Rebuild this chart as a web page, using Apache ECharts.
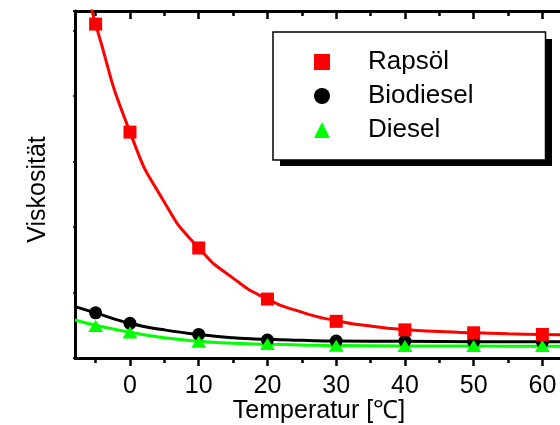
<!DOCTYPE html>
<html>
<head>
<meta charset="utf-8">
<script src="https://cdn.jsdelivr.net/npm/echarts@6.0.0/dist/echarts.min.js"></script>
<style>
html,body{margin:0;padding:0;background:#fff;}
#c{width:560px;height:425px;}
</style>
</head>
<body>
<div id="c"></div>
<script>
// measured points
var temps = [-5, 0, 10, 20, 30, 40, 50, 60];
var rapsoel = [51.0, 34.5, 16.8, 9.0, 5.6, 4.3, 3.85, 3.6];
var biodiesel = [6.9, 5.3, 3.6, 2.75, 2.6, 2.6, 2.5, 2.45];
var diesel = [4.9, 3.9, 2.5, 2.14, 1.88, 1.85, 1.85, 1.85];

// fitted curves
var rapsoelFitX = [-6, -5, 0, 5, 10, 15, 20, 25, 30, 35, 40, 45, 50, 55, 60, 63];
var rapsoelFit = [55.5, 51, 34.5, 23.8, 16.8, 12.2, 9.0, 7.0, 5.7, 4.9, 4.35, 4.05, 3.85, 3.7, 3.6, 3.55];
var biodieselFitX = [-8, -5, 0, 5, 10, 15, 20, 25, 30, 40, 50, 60, 63];
var biodieselFit = [7.85, 6.9, 5.3, 4.3, 3.6, 3.1, 2.85, 2.7, 2.6, 2.55, 2.5, 2.5, 2.5];
var dieselFitX = [-8, -5, 0, 5, 10, 15, 20, 25, 30, 40, 50, 60, 63];
var dieselFit = [5.8, 5.0, 3.95, 3.1, 2.55, 2.25, 2.1, 2.0, 1.9, 1.85, 1.82, 1.8, 1.8];

// axis ticks
var xMajorTicks = [0, 10, 20, 30, 40, 50, 60];
var xMinorTicks = [-5, 5, 15, 25, 35, 45, 55];
var seriesNames = ['Rapsöl', 'Biodiesel', 'Diesel'];

function pairs(xs, ys) { return xs.map(function (x, i) { return [x, ys[i]]; }); }

var FONT = '"Liberation Sans", Arial, sans-serif';
var X_MIN = -8, X_MAX = 63;

function xAx(pos, ticks, len, showLine, showLabel, inside, extra) {
  var a = {
    type: 'value', position: pos, min: X_MIN, max: X_MAX,
    axisLine: { show: showLine, onZero: false, lineStyle: { color: '#000', width: 3 } },
    axisTick: { show: true, inside: inside, length: len, customValues: ticks, lineStyle: { color: '#000', width: 2.5 } },
    axisLabel: { show: showLabel, customValues: ticks, fontSize: 25, color: '#000', fontFamily: FONT, margin: 16 },
    splitLine: { show: false }
  };
  if (extra) for (var k in extra) a[k] = extra[k];
  return a;
}

var chart = echarts.init(document.getElementById('c'), null, { renderer: 'canvas' });
chart.setOption({
  animation: false,
  backgroundColor: '#fff',
  grid: { left: 75, right: -3, top: 11, bottom: 67, containLabel: false, outerBoundsMode: 'none' },
  xAxis: [
    xAx('bottom', xMajorTicks, 8, true, true, false, {
      name: 'Temperatur [℃]', nameLocation: 'middle', nameGap: 41, nameMoveOverlap: false,
      nameTextStyle: { fontSize: 25, color: '#000', fontFamily: FONT }
    }),
    xAx('bottom', xMinorTicks, 5, false, false, false),
    xAx('top', xMajorTicks, 8, true, false, true),
    xAx('top', xMinorTicks, 5, false, false, true)
  ],
  yAxis: {
    type: 'value', min: 0, max: 53, interval: 10,
    axisLine: { show: true, onZero: false, lineStyle: { color: '#000', width: 3 } },
    axisTick: { show: true, inside: false, length: 2, lineStyle: { color: '#000', width: 1.5 } },
    axisLabel: { show: false },
    splitLine: { show: false },
    name: 'Viskosität', nameLocation: 'middle', nameGap: 24,
    nameTextStyle: { fontSize: 25, color: '#000', fontFamily: FONT, padding: [0, 10, 0, 0] }
  },
  legend: {
    orient: 'vertical', left: 273, top: 32,
    padding: [17, 72, 17, 41],
    itemWidth: 16, itemHeight: 16, itemGap: 8,
    backgroundColor: '#fff', borderColor: '#000', borderWidth: 1.5,
    data: [
      { name: seriesNames[0], icon: 'rect' },
      { name: seriesNames[1], icon: 'circle' },
      { name: seriesNames[2], icon: 'triangle' }
    ],
    formatter: '{t|{name}}',
    textStyle: {
      color: '#000', fontFamily: FONT, fontSize: 26, lineHeight: 24,
      rich: { t: { fontSize: 26, lineHeight: 24, padding: [0, 0, 0, 33], color: '#000', fontFamily: FONT } }
    },
    selectedMode: false
  },
  graphic: [{
    type: 'rect', left: 280, top: 39, shape: { width: 272, height: 127 },
    style: { fill: '#000' }, z: 1, silent: true
  }],
  series: [
    { name: 'Diesel Fit', type: 'line', data: pairs(dieselFitX, dieselFit), smooth: 0.6,
      showSymbol: false, lineStyle: { color: '#00ff00', width: 3 }, z: 2, silent: true },
    { name: 'Biodiesel Fit', type: 'line', data: pairs(biodieselFitX, biodieselFit), smooth: 0.6,
      showSymbol: false, lineStyle: { color: '#000', width: 3 }, z: 2, silent: true },
    { name: 'Rapsöl Fit', type: 'line', data: pairs(rapsoelFitX, rapsoelFit), smooth: 0.6,
      showSymbol: false, lineStyle: { color: '#ff0000', width: 3 }, z: 2, silent: true },
    { name: seriesNames[1], type: 'scatter', data: pairs(temps, biodiesel), symbol: 'circle', symbolSize: 13,
      itemStyle: { color: '#000', opacity: 1 }, z: 3 },
    { name: seriesNames[2], type: 'scatter', data: pairs(temps, diesel), symbol: 'triangle', symbolSize: [15, 12],
      itemStyle: { color: '#00ff00', opacity: 1 }, z: 4 },
    { name: seriesNames[0], type: 'scatter', data: pairs(temps, rapsoel), symbol: 'rect', symbolSize: 13,
      itemStyle: { color: '#ff0000', opacity: 1 }, z: 5 }
  ]
});
</script>
</body>
</html>
